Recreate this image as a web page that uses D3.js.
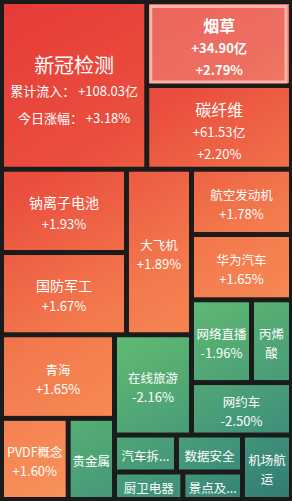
<!DOCTYPE html>
<html><head><meta charset="utf-8">
<script src="https://cdn.jsdelivr.net/npm/d3@7"></script>
<style>
html,body{margin:0;padding:0;background:#1b1b1b;}
svg{display:block;}
</style></head><body>
<div id="chart"></div>
<script>
// ---- data ----
const names   = ["新冠检测","烟草","碳纤维","钠离子电池","国防军工","大飞机","航空发动机","华为汽车","网络直播","丙烯酸",
                 "网约车","青海","在线旅游","PVDF概念","贵金属","汽车拆...","厨卫电器","数据安全","景点及...","机场航运"];
const sizes   = [243.7,121.6,121.2,104.1,102.8,107.6,65.3,65.3,49.7,33.1,
                 52.5,94.5,77.2,54.1,37.6,22.9,18.8,24.4,16.4,31.6];
const changes = ["+3.18%","+2.79%","+2.20%","+1.93%","+1.67%","+1.89%","+1.78%","+1.65%","-1.96%",null,
                 "-2.50%","+1.65%","-2.16%","+1.60%",null,null,null,null,null,null];
const inflows = ["+108.03亿","+34.90亿","+61.53亿",null,null,null,null,null,null,null,
                 null,null,null,null,null,null,null,null,null,null];
const rising  = [true,true,true,true,true,true,true,true,false,false,
                 false,true,false,true,false,false,false,false,false,false];
const highlighted = "烟草";
// nesting of the tiles (indices into the arrays above)
const layoutTree = ["slice",
  ["dice", 0, ["slice", 1, 2]],
  ["pinwheel",
    ["dice", ["slice", 3, 4], 5],
    ["slice", 6, 7, ["dice", 8, 9], 10],
    ["dice", ["slice", ["dice", 15, 17], ["dice", 16, 18]], 19],
    ["slice", 11, ["dice", 13, 14]],
    12]];

// ---- chart ----
const W = 292, H = 501, offset = 1.5, gap = 5;
const FONT = "'Microsoft YaHei','Noto Sans CJK SC','Noto Sans',sans-serif";

const svg = d3.select("#chart").append("svg").attr("width", W).attr("height", H)
  .style("background", "#1b1b1b");
const defs = svg.append("defs");
function grad(id, stops) {
  const g = defs.append("linearGradient").attr("id", id).attr("gradientUnits", "userSpaceOnUse")
    .attr("x1", 0).attr("y1", 0).attr("x2", W).attr("y2", H);
  stops.forEach(([o, c]) => g.append("stop").attr("offset", o).attr("stop-color", c));
}
grad("redGrad", [[0, "#e63b38"], [0.3, "#ea4f3e"], [0.55, "#f37a4d"], [0.8, "#f8925a"], [1, "#fa9f62"]]);
grad("greenGrad", [[0, "#7fd27a"], [0.55, "#66c174"], [0.7, "#55ac73"], [0.85, "#43967a"], [1, "#2f7a74"]]);

function pinwheel(parent, x0, y0, x1, y1) {
  const [L, R, N, M, C] = parent.children;
  const w = x1 - x0, h = y1 - y0, k = w * h / parent.value;
  const aL = L.value * k, aR = R.value * k, aN = N.value * k, aM = M.value * k;
  const solve = a => {
    const b = aL / a, c = aR / (w - a), d = aM / (h - b);
    return {a, b, c, d, f: (w - d) * (h - c) - aN, ok: b < c && c < h && d > 0 && d < a};
  };
  let best = null, prev = null;
  for (let i = 1; i < 1000; i++) {
    const s = solve(w * i / 1000);
    if (s.ok && prev && prev.ok && Math.sign(s.f) !== Math.sign(prev.f)) {
      let lo = prev.a, hi = s.a;
      const sLo = Math.sign(prev.f);
      for (let j = 0; j < 60; j++) {
        const mid = (lo + hi) / 2;
        if (Math.sign(solve(mid).f) === sLo) lo = mid; else hi = mid;
      }
      best = solve((lo + hi) / 2);
      break;
    }
    prev = s;
  }
  if (!best) { d3.treemapSlice(parent, x0, y0, x1, y1); return; }
  const {a, b, c, d} = best;
  const set = (n, ax, ay, bx, by) => { n.x0 = ax; n.y0 = ay; n.x1 = bx; n.y1 = by; };
  set(L, x0, y0, x0 + a, y0 + b);
  set(R, x0 + a, y0, x1, y0 + c);
  set(N, x0 + d, y0 + c, x1, y1);
  set(M, x0, y0 + b, x0 + d, y1);
  set(C, x0 + d, y0 + b, x0 + a, y0 + c);
}
function tile(node, x0, y0, x1, y1) {
  const m = node.data.mode;
  if (m === "dice") d3.treemapDice(node, x0, y0, x1, y1);
  else if (m === "slice") d3.treemapSlice(node, x0, y0, x1, y1);
  else pinwheel(node, x0, y0, x1, y1);
}
function build(n) {
  if (typeof n === "number") return {idx: n};
  const [mode, ...kids] = n;
  return {mode, children: kids.map(build)};
}
const root = d3.hierarchy(build(layoutTree)).sum(d => d.idx === undefined ? 0 : sizes[d.idx]);
d3.treemap().size([290, 498]).tile(tile)(root);

const ctx = document.createElement("canvas").getContext("2d");
function measure(t, fs, fw) { ctx.font = `${fw || "normal"} ${fs}px ${FONT}`; return ctx.measureText(t).width; }
function wrap(t, fs, avail) {
  const out = []; let cur = "";
  for (const ch of Array.from(t)) {
    if (cur && measure(cur + ch, fs) > avail) { out.push(cur); cur = ch; } else cur += ch;
  }
  out.push(cur);
  return out;
}

const g = svg.append("g").attr("transform", `translate(${offset},${offset})`);
root.leaves().forEach(leaf => {
  const i = leaf.data.idx;
  const x = leaf.x0 + gap / 2, y = leaf.y0 + gap / 2;
  const w = leaf.x1 - leaf.x0 - gap, h = leaf.y1 - leaf.y0 - gap;
  const cell = g.append("g");
  const isHi = names[i] === highlighted;
  cell.append("rect").attr("x", x).attr("y", y).attr("width", w).attr("height", h)
    .attr("fill", rising[i] ? "url(#redGrad)" : "url(#greenGrad)");
  if (isHi) {
    cell.append("rect").attr("x", x).attr("y", y).attr("width", w).attr("height", h)
      .attr("fill", "#ffffff").attr("opacity", 0.18);
    cell.append("rect").attr("x", x + 1.5).attr("y", y + 2.5).attr("width", w - 4.5).attr("height", h - 3.5)
      .attr("fill", "none").attr("stroke", "#f8b4a8").attr("stroke-width", 3);
  }
  // label lines
  let lines, lh, shift;
  if (inflows[i] && i === 0) {
    lines = [{t: names[i], s: 20}, {t: "累计流入： " + inflows[i], s: 13}, {t: "今日涨幅： " + changes[i], s: 13}];
    lh = 26.5; shift = 5;
  } else if (inflows[i]) {
    const fw = isHi ? "bold" : "normal";
    lines = [{t: names[i], s: 16, w: fw}, {t: inflows[i], s: 13, w: fw}, {t: changes[i], s: 13, w: fw}];
    lh = 21.8; shift = 3.5;
  } else {
    const fs = (sizes[i] > 100 && w >= 100) ? 14 : 12.5;
    lines = wrap(names[i], fs, w - 2).map(t => ({t, s: fs}));
    if (changes[i]) lines.push({t: changes[i], s: 13});
    lh = fs === 14 ? 20.5 : 19; shift = 1.5;
  }
  const cx = x + w / 2, cy = y + h / 2;
  const text = cell.append("text")
    .attr("text-anchor", "middle")
    .attr("dominant-baseline", "central")
    .attr("fill", "#ffffff")
    .style("font-family", FONT);
  lines.forEach((ln, j) => {
    text.append("tspan")
      .attr("x", cx)
      .attr("y", cy + (j - (lines.length - 1) / 2) * lh + shift)
      .attr("dominant-baseline", "central")
      .style("font-size", ln.s + "px")
      .style("font-weight", ln.w || "normal")
      .text(ln.t);
  });
});
</script>
</body></html>
